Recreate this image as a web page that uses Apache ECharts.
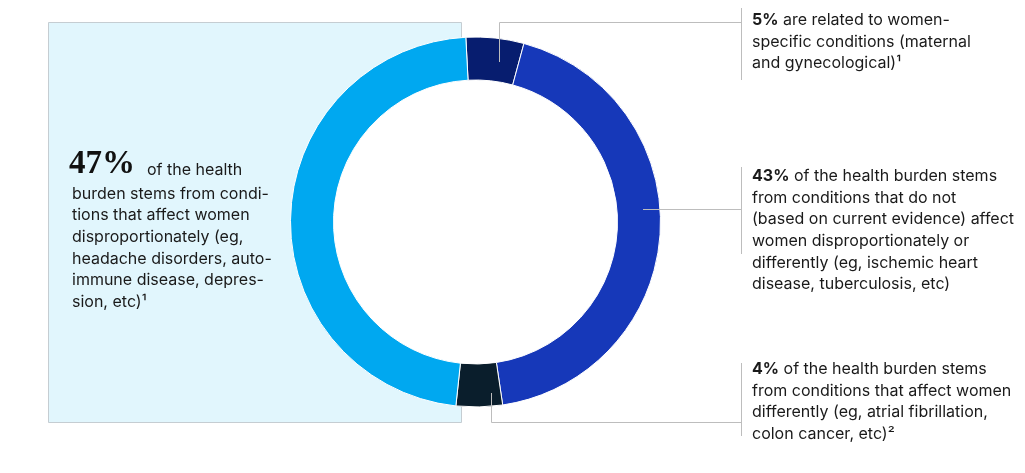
<!DOCTYPE html>
<html>
<head>
<meta charset="utf-8">
<script src="https://cdn.jsdelivr.net/npm/echarts@6/dist/echarts.min.js"></script>
<style>
  html, body { margin: 0; padding: 0; background: #fff; }
  #chart { width: 1025px; height: 473px; }
</style>
</head>
<body>
<div id="chart"></div>
<script>
// ---- data ----
var categories = ['Women-specific conditions', 'Do not affect women disproportionately', 'Affect women differently', 'Affect women disproportionately'];
var shares = [5, 43, 4, 47];
var sliceColors = ['#071d6f', '#1638b9', '#0a1e2c', '#00a8f0'];
var pctLabels = ['5%', '43%', '4%', '47%'];

var textBig = ['of the health',
  'burden stems from condi-',
  'tions that affect women',
  'disproportionately (eg,',
  'headache disorders, auto-',
  'immune disease, depres-',
  'sion, etc)\u00b9'];
var text5 = [' are related to women-', 'specific conditions (maternal', 'and gynecological)\u00b9'];
var text43 = [' of the health burden stems', 'from conditions that do not', '(based on current evidence) affect', 'women disproportionately or', 'differently (eg, ischemic heart', 'disease, tuberculosis, etc)'];
var text4 = [' of the health burden stems', 'from conditions that affect women', 'differently (eg, atrial fibrillation,', 'colon cancer, etc)\u00b2'];

var FONT = 'Inter, "Liberation Sans", Arial, sans-serif';
var LH = 21.7;
var lineColor = '#bdbdbd';
var txtColor = '#1a1a1a';

function richBlock(pct, lines) {
  var s = '{b|' + pct + '}{n|' + lines[0] + '}';
  for (var i = 1; i < lines.length; i++) s += '\n{n|' + lines[i] + '}';
  return s;
}
var rich = {
  b: { fontFamily: FONT, fontSize: 16, fontWeight: 'bold', lineHeight: LH, fill: txtColor },
  n: { fontFamily: FONT, fontSize: 16, lineHeight: LH, fill: txtColor }
};

var chart = echarts.init(document.getElementById('chart'), null, { renderer: 'canvas' });
var option = {
  animation: false,
  backgroundColor: '#ffffff',
  graphic: [
    { type: 'rect', z: -10, shape: { x: 48.5, y: 22.5, width: 413, height: 400 },
      style: { fill: '#e1f6fd', stroke: '#c5cdd2', lineWidth: 1 } },
    // leader lines
    { type: 'polyline', z: 50, shape: { points: [[499.5, 62], [499.5, 22.5], [741.5, 22.5]] }, style: { stroke: lineColor, lineWidth: 1, fill: null } },
    { type: 'line', z: 50, shape: { x1: 741.5, y1: 8, x2: 741.5, y2: 80 }, style: { stroke: lineColor, lineWidth: 1 } },
    { type: 'line', z: 50, shape: { x1: 643, y1: 209.5, x2: 741.5, y2: 209.5 }, style: { stroke: lineColor, lineWidth: 1 } },
    { type: 'line', z: 50, shape: { x1: 741.5, y1: 167, x2: 741.5, y2: 254 }, style: { stroke: lineColor, lineWidth: 1 } },
    { type: 'polyline', z: 50, shape: { points: [[491.5, 393], [491.5, 422.5], [741.5, 422.5]] }, style: { stroke: lineColor, lineWidth: 1, fill: null } },
    { type: 'line', z: 50, shape: { x1: 741.5, y1: 363, x2: 741.5, y2: 436 }, style: { stroke: lineColor, lineWidth: 1 } },
    // left text
    { type: 'text', z: 60, left: 69, top: 148,
      style: { text: pctLabels[3], fontFamily: '"Liberation Serif", "DejaVu Serif", serif', fontWeight: 'bold', fontSize: 33, fill: '#111' } },
    { type: 'text', z: 60, left: 147, top: 162,
      style: { text: textBig[0], fontFamily: FONT, fontSize: 16, fill: txtColor } },
    { type: 'text', z: 60, left: 72, top: 183,
      style: { text: textBig.slice(1).join('\n'), fontFamily: FONT, fontSize: 16, lineHeight: LH, fill: txtColor } },
    // right text blocks
    { type: 'text', z: 60, left: 752, top: 12, style: { text: richBlock(pctLabels[0], text5), rich: rich } },
    { type: 'text', z: 60, left: 752, top: 168, style: { text: richBlock(pctLabels[1], text43), rich: rich } },
    { type: 'text', z: 60, left: 752, top: 361, style: { text: richBlock(pctLabels[2], text4), rich: rich } }
  ],
  series: [
    {
      type: 'pie', silent: true, z: 1,
      center: [475.5, 222], radius: [0, 142],
      label: { show: false }, labelLine: { show: false },
      data: [{ value: 1, itemStyle: { color: '#ffffff' } }]
    },
    {
      type: 'pie', silent: true, z: 2,
      center: [475.5, 222], radius: [142, 185],
      startAngle: 93, clockwise: true,
      avoidLabelOverlap: false,
      label: { show: false }, labelLine: { show: false },
      itemStyle: { borderColor: '#ffffff', borderWidth: 1 },
      data: categories.map(function (c, i) {
        return { name: c, value: shares[i], itemStyle: { color: sliceColors[i] } };
      })
    }
  ]
};
chart.setOption(option);
</script>
</body>
</html>
